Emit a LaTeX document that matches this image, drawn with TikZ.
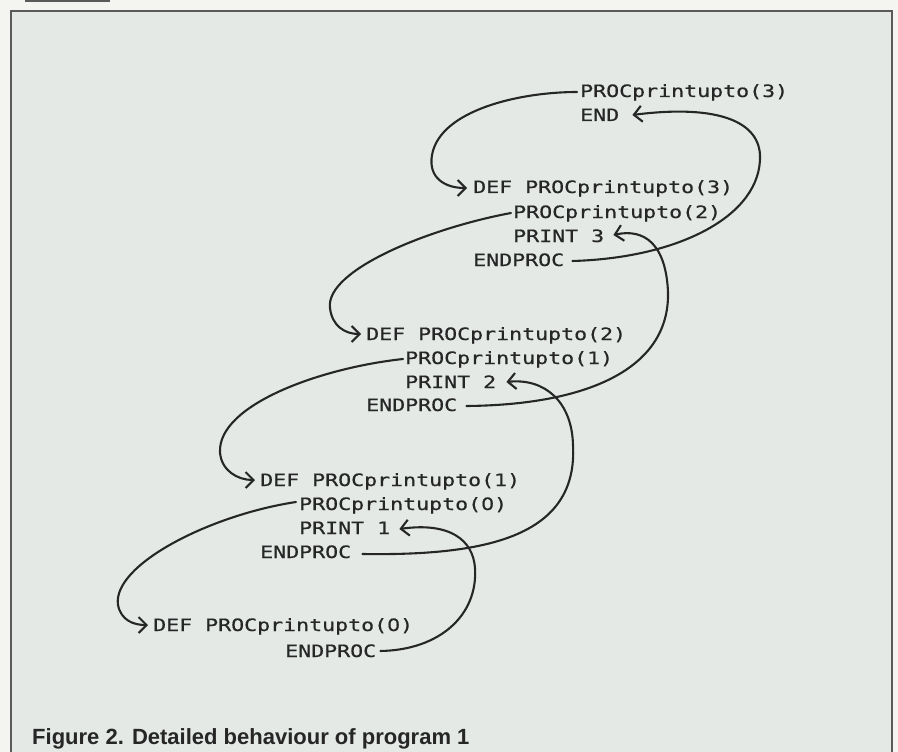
\documentclass[tikz,border=0pt]{standalone}
\usepackage{fontspec}
\newfontfamily\monof[FakeStretch=1.27,FakeBold=0.6]{DejaVu Sans Mono}
\newfontfamily\zerof[FakeStretch=1.2,FakeBold=0.6]{DejaVu Sans}
\newcommand\zro{{\zerof 0}}
\newfontfamily\capf{Liberation Sans}
\usetikzlibrary{arrows.meta,calc}
\definecolor{paper}{HTML}{E4E9E6}
\definecolor{outer}{HTML}{F4F4F0}
\definecolor{ink}{HTML}{262626}
\definecolor{framec}{HTML}{5A5A5A}
\begin{document}
\begin{tikzpicture}[x=1pt,y=-1pt,
  code/.style={anchor=base west,inner sep=0pt,font=\monof\fontsize{17}{17}\selectfont,text=ink},
  flow/.style={draw=ink,line width=2.1pt,line cap=round,-{Straight Barb[length=8pt,width=16pt]}},
  captext/.style={anchor=base west,inner sep=0pt,font=\capf\bfseries\fontsize{22}{22}\selectfont,text=ink}]
\useasboundingbox (0,0) rectangle (898,752);
\fill[outer] (0,0) rectangle (898,752);
\fill[paper] (11,11) rectangle (892,752);
\fill[framec] (25,0) rectangle (110,2.5);
\draw[framec,line width=2pt] (11,752) -- (11,11) -- (892,11) -- (892,752);

% top level
\node[code] (p3) at (580,97) {PROCprintupto(3)};
\node[code] (endm) at (580,121) {END};
% level 3
\node[code] (d3) at (473,193) {DEF PROCprintupto(3)};
\node[code] (c2) at (513,218) {PROCprintupto(2)};
\node[code] (pr3) at (513,242) {PRINT 3};
\node[code] (e3) at (473,266) {ENDPROC};
% level 2
\node[code] (d2) at (366,340) {DEF PROCprintupto(2)};
\node[code] (c1) at (405,364) {PROCprintupto(1)};
\node[code] (pr2) at (405,388) {PRINT 2};
\node[code] (e2) at (366,411) {ENDPROC};
% level 1
\node[code] (d1) at (260,486) {DEF PROCprintupto(1)};
\node[code] (c0) at (299,510) {PROCprintupto(\zro)};
\node[code] (pr1) at (299,534) {PRINT 1};
\node[code] (e1) at (260,558) {ENDPROC};
% level 0
\node[code] (d0) at (153,631) {DEF PROCprintupto(\zro)};
\node[code] (e0) at (285,657) {ENDPROC};

\node[captext] (cap) at (32,744) {Figure 2. Detailed behaviour of program 1};

% calls
\draw[flow] ($(p3.base west)+(-3,-5)$) .. controls (520,92) and (440,110) .. (432,155)
  .. controls (428,178) and (445,188) .. ($(d3.base west)+(-6,-5)$);
\draw[flow] ($(c2.base west)+(-2,-5)$) .. controls (430,228) and (325,270) .. (330,308)
  .. controls (332,326) and (345,334) .. ($(d2.base west)+(-5,-6)$);
\draw[flow] ($(c1.base west)+(-2,-5)$) .. controls (320,368) and (218,405) .. (220,452)
  .. controls (221,470) and (237,480) .. ($(d1.base west)+(-5,-6)$);
\draw[flow] ($(c0.base west)+(-3,-8)$) .. controls (210,515) and (112,565) .. (118,605)
  .. controls (121,620) and (133,625) .. ($(d0.base west)+(-5,-6)$);

% returns
\draw[flow] ($(e3.base east)+(8,-5)$) .. controls (680,258) and (762,215) .. (760,155)
  .. controls (758,118) and (710,105) .. ($(endm.base east)+(13,-6)$);
\draw[flow] ($(e2.base east)+(9,-5)$) .. controls (585,405) and (670,370) .. (668,292)
  .. controls (666,245) and (645,228) .. ($(pr3.base east)+(9,-7)$);
\draw[flow] ($(e1.base east)+(11,-4)$) .. controls (490,556) and (578,535) .. (573,445)
  .. controls (572,402) and (545,378) .. ($(pr2.base east)+(10,-6)$);
\draw[flow] ($(e0.base east)+(4,-6)$) .. controls (440,650) and (478,615) .. (475,568)
  .. controls (473,540) and (450,522) .. ($(pr1.base east)+(9,-5)$);
\end{tikzpicture}
\end{document}
